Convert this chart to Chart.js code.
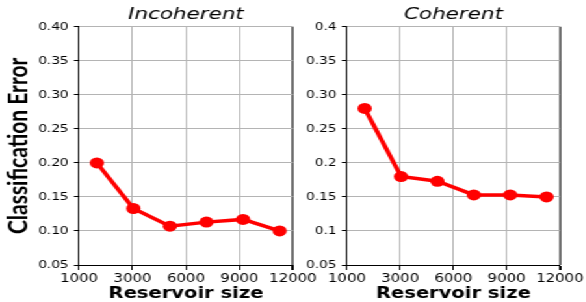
<!DOCTYPE html>
<html>
<head>
<meta charset="utf-8">
<script src="https://cdn.jsdelivr.net/npm/chart.js@4.4.0/dist/chart.umd.min.js"></script>
<style>
  html, body { margin: 0; padding: 0; background: #fff; overflow: hidden; }
  /* the original figure is stretched sideways, so draw narrow and widen it */
  #wrap { position: relative; width: 451px; height: 302px; transform: scaleX(1.3); transform-origin: 0 0; }
  #left { position: absolute; left: 0; top: 0; }
  #right { position: absolute; left: 226px; top: 0; }
</style>
</head>
<body>
<div id="wrap">
  <canvas id="left" width="246" height="302"></canvas>
  <canvas id="right" width="225" height="302"></canvas>
</div>
<script>
const reservoirSizes = [1000, 3050, 5100, 7150, 9200, 11250];
const incoherentError = [0.200, 0.133, 0.107, 0.113, 0.117, 0.100];
const coherentError = [0.280, 0.180, 0.173, 0.153, 0.153, 0.150];

const xTickValues = [0, 3000, 6000, 9000, 12000];
const xTickLabels = ['1000', '3000', '6000', '9000', '12000'];
const yTickValues = [0.05, 0.10, 0.15, 0.20, 0.25, 0.30, 0.35, 0.40];
const yTickLabelsLeft = ['0.05', '0.10', '0.15', '0.20', '0.25', '0.30', '0.35', '0.40'];
const yTickLabelsRight = ['0.05', '0.1', '0.15', '0.2', '0.25', '0.30', '0.35', '0.4'];

//en panel
function makePanel(id, titleText, values, yLabels, yWidth, padRight, showYTitle) {
  return new Chart(document.getElementById(id), {
    type: 'line',
    data: {
      datasets: [{
        data: reservoirSizes.map((x, i) => ({ x: x, y: values[i] })),
        borderColor: '#ff0000',
        backgroundColor: '#ff0000',
        borderWidth: 3.5,
        pointRadius: 5.5,
        pointHoverRadius: 5.5,
        pointBorderWidth: 0,
        tension: 0
      }]
    },
    options: {
      responsive: false,
      animation: false,
      devicePixelRatio: 1,
      layout: { padding: { left: 0, right: padRight, top: 0, bottom: 0 } },
      plugins: {
        legend: { display: false },
        tooltip: { enabled: false },
        title: {
          display: true,
          text: titleText,
          fullSize: false,
          color: '#000',
          font: { family: 'DejaVu Sans', size: 16.5, style: 'italic', weight: 'normal', lineHeight: 1.2 },
          padding: { top: 5, bottom: 2 }
        }
      },
      scales: {
        x: {
          type: 'linear',
          min: 0,
          max: 12000,
          afterBuildTicks: s => { s.ticks = xTickValues.map(v => ({ value: v })); },
          afterFit: s => { s.height = 37; },
          ticks: {
            callback: v => xTickLabels[xTickValues.indexOf(v)],
            color: '#000',
            font: { family: 'DejaVu Sans', size: 11.5 },
            padding: 2,
            maxRotation: 0,
            autoSkip: false
          },
          grid: {
            color: c => (c.tick && c.tick.value === 12000) ? '#6e6e6e' : '#b4b4b4',
            lineWidth: c => (c.tick && c.tick.value === 12000) ? 2 : 1,
            tickColor: '#000',
            tickLength: 5
          },
          border: { color: '#000', width: 1 },
          title: {
            display: true,
            text: 'Reservoir size',
            color: '#000',
            font: { family: 'DejaVu Sans', size: 15, weight: 'bold', lineHeight: 1 },
            padding: { top: 0, bottom: 0 }
          }
        },
        y: {
          min: 0.05,
          max: 0.4,
          afterBuildTicks: s => { s.ticks = yTickValues.map(v => ({ value: v })); },
          afterFit: s => { s.width = yWidth; },
          ticks: {
            callback: (v, i) => yLabels[i],
            color: '#000',
            font: { family: 'DejaVu Sans', size: 10.5 },
            padding: 4
          },
          grid: { color: '#b4b4b4', lineWidth: 1, tickColor: '#000', tickLength: 4 },
          border: { color: '#000', width: 1 },
          title: {
            display: showYTitle,
            text: 'Classification Error',
            color: '#000',
            font: { family: 'Lato', size: 21, weight: 'bold', lineHeight: 1 },
            padding: { top: 4, bottom: 0 }
          }
        }
      }
    }
  });
}

makePanel('left', 'Incoherent', incoherentError, yTickLabelsLeft, 60.8, 20.6, true);
makePanel('right', 'Coherent', coherentError, yTickLabelsRight, 40.9, 19.5, false);
</script>
</body>
</html>
